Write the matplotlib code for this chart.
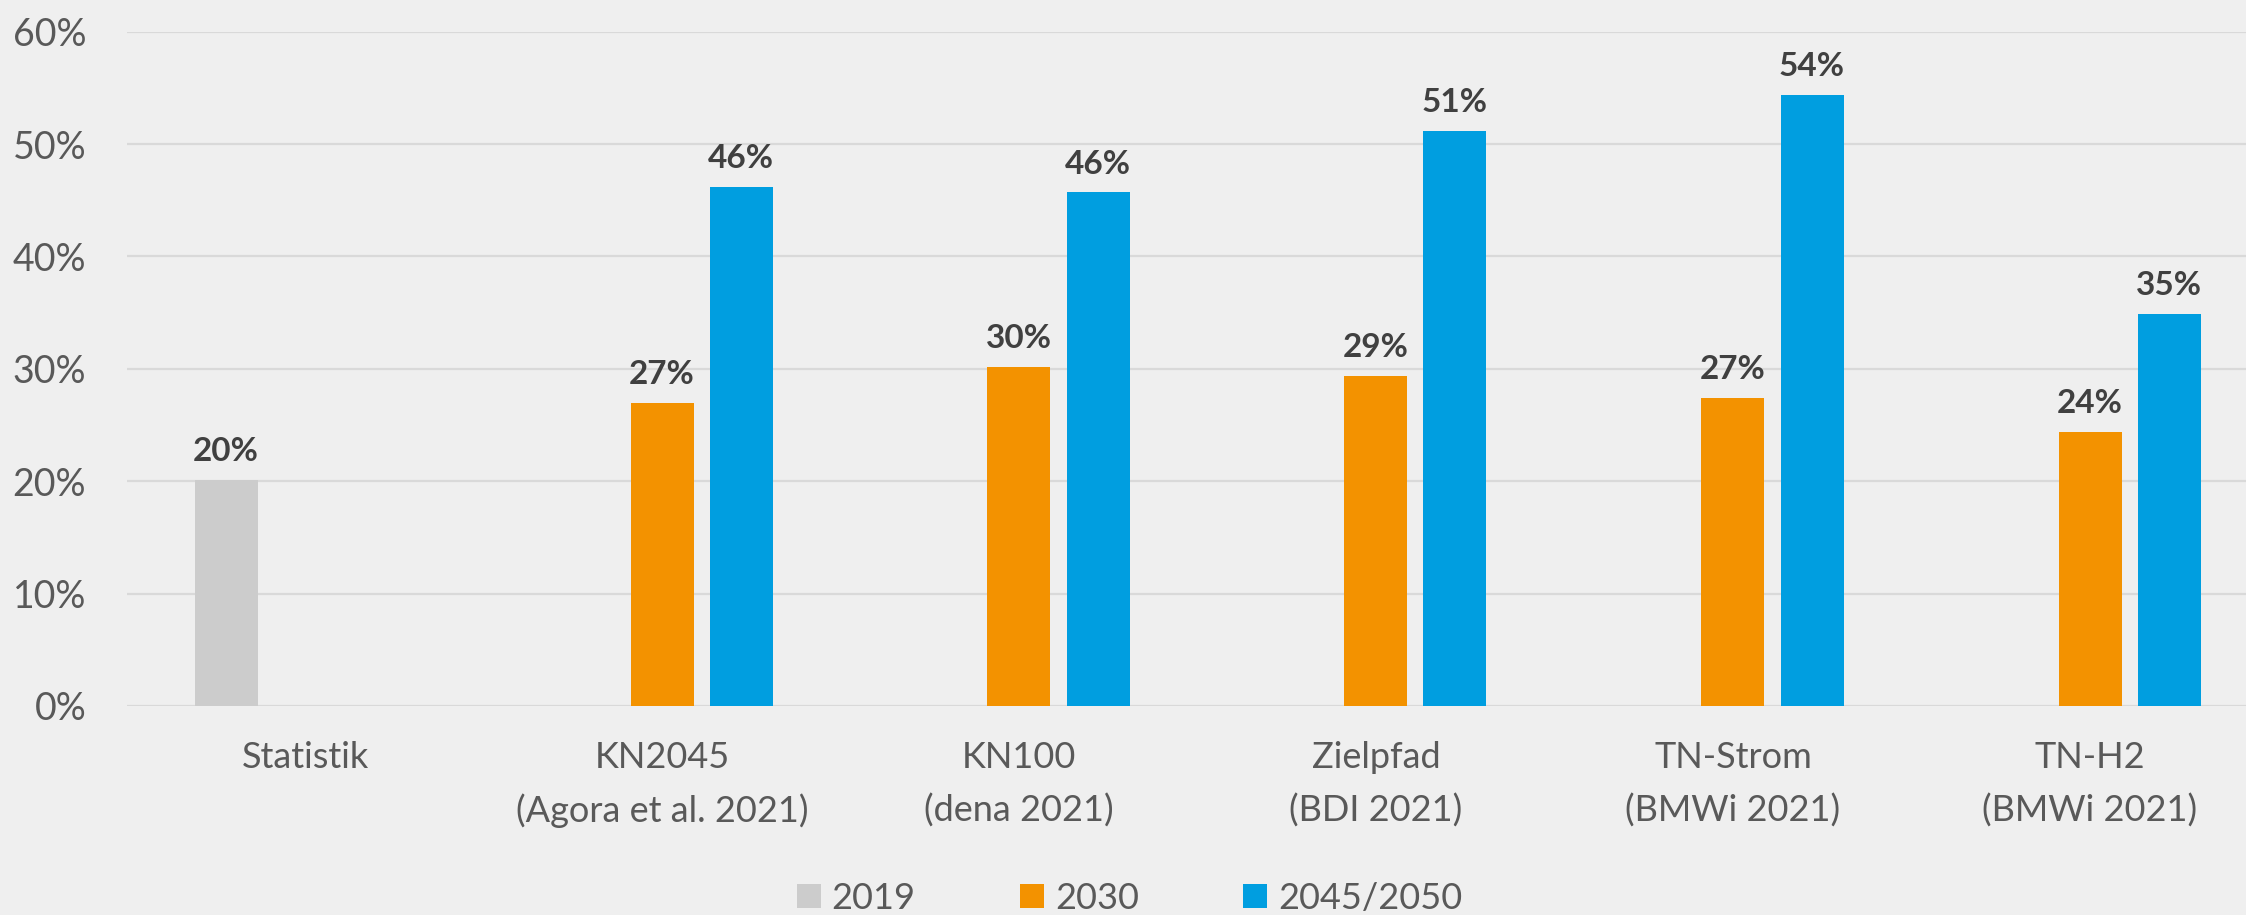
import numpy as np
import matplotlib.pyplot as plt
from matplotlib.patches import Patch

# Data (shares in %)
categories = ["Statistik", "KN2045\n(Agora et al. 2021)", "KN100\n(dena 2021)",
              "Zielpfad\n(BDI 2021)", "TN-Strom\n(BMWi 2021)", "TN-H2\n(BMWi 2021)"]
series_names = ["2019", "2030", "2045/2050"]
v2019 = [20.1, np.nan, np.nan, np.nan, np.nan, np.nan]
v2030 = [np.nan, 27.0, 30.2, 29.4, 27.4, 24.4]
v2045 = [np.nan, 46.2, 45.7, 51.2, 54.4, 34.9]
labels2019 = ["20%", "", "", "", "", ""]
labels2030 = ["", "27%", "30%", "29%", "27%", "24%"]
labels2045 = ["", "46%", "46%", "51%", "54%", "35%"]

colors = ["#cccccc", "#f39200", "#009ee0"]
bg = "#efefef"
txt = "#595959"
font = ["Lato", "DejaVu Sans"]

plt.rcParams["font.family"] = font

W, H = 2246, 915
fig = plt.figure(figsize=(W / 100, H / 100), dpi=100, facecolor=bg)
ax = fig.add_axes([126.5 / W, (H - 706) / H, 1 - 126.5 / W, (706 - 31.7) / H])
ax.set_facecolor(bg)

x = np.arange(len(categories))
slot = 79 / 357
width = 63 / 357

for vals, labs, off, c in [(v2019, labels2019, -slot, colors[0]),
                           (v2030, labels2030, 0, colors[1]),
                           (v2045, labels2045, slot, colors[2])]:
    vals = np.array(vals, dtype=float)
    m = ~np.isnan(vals)
    bars = ax.bar(x[m] + off, vals[m], width, color=c, zorder=3)
    ax.bar_label(bars, labels=[l for l, k in zip(labs, m) if k], padding=10,
                 fontsize=24, fontweight="bold", color="#404040")

ax.set_ylim(0, 60)
ax.set_xlim(-0.5, -0.5 + (W - 126.5) / 357)
ax.set_yticks(np.arange(0, 61, 10))
ax.set_yticklabels([f"{v}%" for v in range(0, 61, 10)])
ax.set_xticks(x)
ax.set_xticklabels(categories, linespacing=1.7)
ax.tick_params(axis="y", length=0, pad=29, labelsize=27, labelcolor=txt)
ax.tick_params(axis="x", length=0, pad=25, labelsize=26, labelcolor=txt)
ax.grid(axis="y", color="#d9d9d9", linewidth=1.6, zorder=0)
for s in ax.spines.values():
    s.set_visible(False)

handles = [Patch(facecolor=c, edgecolor="none") for c in colors]
fig.legend(handles, series_names, loc="center", bbox_to_anchor=(0.503, 0.018),
           ncol=3, frameon=False, fontsize=26, labelcolor=txt,
           handlelength=0.65, handleheight=0.65, handletextpad=0.3,
           columnspacing=2.9, borderpad=0)

fig.savefig("out.png", dpi=100, facecolor=bg)
